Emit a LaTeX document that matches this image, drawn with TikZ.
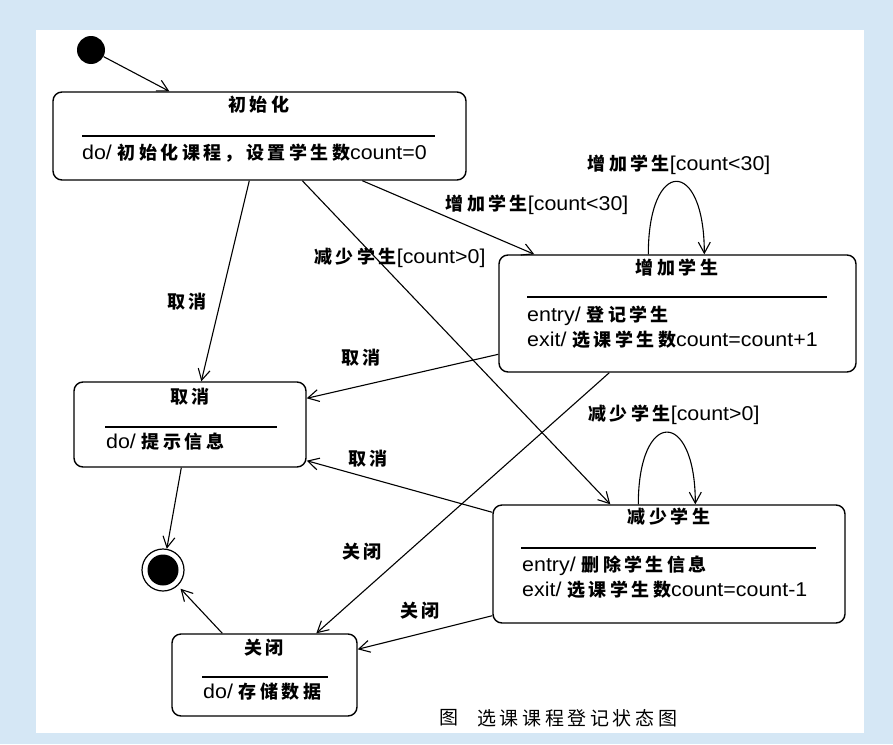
\documentclass[tikz,border=0pt]{standalone}
\usepackage{fontspec}
\setmainfont{Liberation Sans}[FakeStretch=1.07]
\newfontfamily\cjkfont[LetterSpace=19]{Noto Sans CJK SC}
\newcommand\zhs[1]{{\cjkfont\bfseries\fontsize{18pt}{20pt}\selectfont #1}}
\newcommand\zhcap[1]{{\cjkfont\fontsize{19pt}{22pt}\selectfont #1}}
\usetikzlibrary{arrows.meta,calc}
\definecolor{pagebg}{RGB}{213,231,245}
\begin{document}
\begin{tikzpicture}[x=1pt,y=-1pt,
  state/.style={draw, rounded corners=9pt, line width=1.4pt, inner sep=0pt},
  txt/.style={inner sep=0pt, font=\fontsize{20pt}{24pt}\selectfont},
  sepline/.style={line width=1.2pt},
  flow/.style={-{Straight Barb[length=11pt,width=12pt]}, line width=1.1pt}]
% page
\fill[pagebg] (0,0) rectangle (893,744);
\fill[white] (36,30) rectangle (864,733);
\useasboundingbox (0,0) rectangle (893,744);

% pseudo states
\node[circle, fill=black, minimum size=28pt, inner sep=0pt] (start) at (91,50) {};
\node[circle, draw, line width=1.2pt, minimum size=42pt, inner sep=0pt] (final) at (163,570) {};
\node[circle, fill=black, minimum size=31pt, inner sep=0pt] (finaldot) at (final) {};

% state: initialise
\node[state, minimum width=413pt, minimum height=88pt] (init) at (259.5,136) {};
\node[txt] (initT) at (259,105) {\zhs{初始化}};
\draw[sepline] (82,136) -- (435,136);
\node[txt, anchor=west] (initD) at (82,153) {do/ \zhs{初始化课程，设置学生数}count=0};

% state: add student
\node[state, minimum width=357pt, minimum height=117pt] (add) at (677.5,313.5) {};
\node[txt] (addT) at (677,268) {\zhs{增加学生}};
\draw[sepline] (527,297) -- (827,297);
\node[txt, anchor=west] (addE) at (527,316) {entry/ \zhs{登记学生}};
\node[txt, anchor=west] (addX) at (527,340) {exit/ \zhs{选课学生数}count=count+1};

% state: cancel
\node[state, minimum width=232pt, minimum height=85pt] (cancel) at (190,424.5) {};
\node[txt] (cancelT) at (190,397) {\zhs{取消}};
\draw[sepline] (105,427) -- (277,427);
\node[txt, anchor=west] (cancelD) at (106,442) {do/ \zhs{提示信息}};

% state: remove student
\node[state, minimum width=352pt, minimum height=118pt] (dec) at (669,564) {};
\node[txt] (decT) at (669,517) {\zhs{减少学生}};
\draw[sepline] (521,548) -- (816,548);
\node[txt, anchor=west] (decE) at (522,566) {entry/ \zhs{删除学生信息}};
\node[txt, anchor=west] (decX) at (522,590) {exit/ \zhs{选课学生数}count=count-1};

% state: close
\node[state, minimum width=185pt, minimum height=82pt] (close) at (264.5,675) {};
\node[txt] (closeT) at (264,648) {\zhs{关闭}};
\draw[sepline] (202,677) -- (328,677);
\node[txt, anchor=west] (closeD) at (203,692) {do/ \zhs{存储数据}};

% transitions
\draw[flow] (start) -- ($(init.north west)+(117,0)$);
\draw[flow] ($(init.south west)+(197,0)$) -- ($(cancel.north west)+(128,0)$);
\draw[flow] ($(init.south west)+(310,0)$) -- ($(add.north west)+(36,0)$);
\draw[flow] ($(init.south west)+(250,0)$) -- ($(dec.north west)+(118,0)$);
\draw[flow] ($(add.north west)+(150,0)$) .. controls ($(add.north west)+(150,-97)$) and ($(add.north west)+(206,-97)$) .. ($(add.north west)+(206,0)$);
\draw[flow] ($(add.north west)+(0,100)$) -- ($(cancel.north east)+(0,17)$);
\draw[flow] ($(add.south west)+(111,0)$) -- ($(close.north west)+(145,0)$);
\draw[flow] ($(dec.north west)+(146,0)$) .. controls ($(dec.north west)+(146,-96)$) and ($(dec.north west)+(203,-96)$) .. ($(dec.north west)+(203,0)$);
\draw[flow] ($(dec.north west)+(0,8)$) -- ($(cancel.south east)+(0,-7)$);
\draw[flow] ($(dec.south west)+(0,-8)$) -- ($(close.north east)+(0,16)$);
\draw[flow] ($(cancel.south west)+(108,0)$) -- (final);
\draw[flow, shorten >=4pt] ($(close.north west)+(51,0)$) -- (final);

% transition labels
\node[txt] (l1) at (187,302) {\zhs{取消}};
\node[txt] (l2) at (537,205) {\zhs{增加学生}[count<30]};
\node[txt] (l3) at (400,258) {\zhs{减少学生}[count>0]};
\node[txt] (l4) at (679,165) {\zhs{增加学生}[count<30]};
\node[txt] (l5) at (361,358) {\zhs{取消}};
\node[txt] (l6) at (674,415) {\zhs{减少学生}[count>0]};
\node[txt] (l7) at (368,459) {\zhs{取消}};
\node[txt] (l8) at (362,552) {\zhs{关闭}};
\node[txt] (l9) at (420,611) {\zhs{关闭}};

% caption
\node[txt] (capA) at (449,718) {\zhcap{图}};
\node[txt, anchor=west] (capB) at (477,718) {\zhcap{选课课程登记状态图}};
\end{tikzpicture}
\end{document}
